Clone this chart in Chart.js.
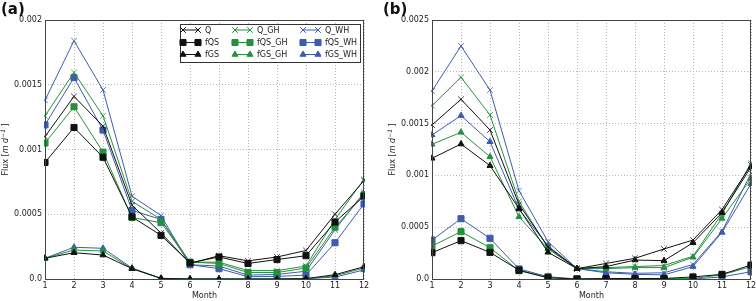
<!DOCTYPE html>
<html>
<head>
<meta charset="utf-8">
<script src="https://cdn.jsdelivr.net/npm/chart.js@4"></script>
<style>
  html,body{margin:0;padding:0;background:#fff;overflow:hidden;width:756px;height:301px;}
  canvas{position:absolute;top:0;}
  #cA{left:0;}
  #cB{left:380px;}
  .lbl{position:absolute;top:0;font:bold 15px "DejaVu Sans";color:#111;}
</style>
</head>
<body>
<canvas id="cA" width="378" height="301"></canvas>
<canvas id="cB" width="390" height="301"></canvas>
<div class="lbl" style="left:1px">(a)</div>
<div class="lbl" style="left:383px">(b)</div>
<script>
// DADOS
const months = ["1","2","3","4","5","6","7","8","9","10","11","12"];
const seriesNames = ["Q","fQS","fGS","Q_GH","fQS_GH","fGS_GH","Q_WH","fQS_WH","fGS_WH"];

// painel (a)
const qA     = [0.00110,0.00141,0.00118,0.00057,0.000355,0.00012,0.00018,0.00014,0.00017,0.00022,0.00050,0.00076];
const fqsA   = [0.00090,0.00117,0.00094,0.00048,0.000337,0.000125,0.00017,0.00012,0.00015,0.00018,0.00044,0.00064];
const fgsA   = [0.00016,0.000203,0.000185,0.00008,0.000005,0,0,0,0,0.000003,0.000033,0.000095];
const qGhA   = [0.00126,0.001595,0.00126,0.00060,0.00046,0.00013,0.00013,0.000065,0.000065,0.00010,0.00046,0.00077];
const fqsGhA = [0.00105,0.00133,0.00098,0.000475,0.000435,0.00013,0.00012,0.00005,0.00005,0.000085,0.00040,0.00065];
const fgsGhA = [0.00016,0.000224,0.000216,0.00008,0.000004,0,0,0,0,0.000002,0.000025,0.000085];
const qWhA   = [0.00138,0.00184,0.00146,0.00064,0.00049,0.00011,0.00010,0.00003,0.000035,0.00006,0.00038,0.00067];
const fqsWhA = [0.00119,0.001555,0.00115,0.00053,0.00046,0.00011,0.00008,0.000018,0.00002,0.00003,0.00028,0.00058];
const fgsWhA = [0.00016,0.000245,0.000237,0.000085,0.000005,0,0,0,0,0.000002,0.000015,0.00007];

// painel (b)
const qB     = [0.001486,0.001735,0.001438,0.00072,0.00031,0.0001,0.00015,0.0002,0.00029,0.000376,0.00067,0.00110];
const fqsB   = [0.000254,0.00037,0.000257,0.000085,0.000012,0,0.000005,0.000005,0.000005,0.00002,0.000045,0.000135];
const fgsB   = [0.001165,0.001303,0.001094,0.00068,0.000258,0.0001,0.00012,0.000183,0.000177,0.00035,0.00064,0.00108];
const qGhB   = [0.001673,0.001947,0.001583,0.00075,0.0003,0.0001,0.00011,0.00012,0.00013,0.00022,0.00063,0.001117];
const fqsGhB = [0.000318,0.000457,0.000302,0.00008,0.000012,0,0.000003,0.000003,0.000003,0.000005,0.00004,0.00012];
const fgsGhB = [0.0013,0.001416,0.00118,0.0006,0.00029,0.0001,0.0001,0.00011,0.00011,0.00021,0.000585,0.00097];
const qWhB   = [0.001815,0.002249,0.001824,0.000852,0.00036,0.0001,0.00007,0.000055,0.00006,0.00014,0.00046,0.00102];
const fqsWhB = [0.000376,0.000582,0.000393,0.000097,0.000022,0,0,0,0,0,0.00002,0.00007];
const fgsWhB = [0.00139,0.001577,0.001325,0.000673,0.00032,0.0001,0.00006,0.000045,0.00004,0.00012,0.00045,0.00092];

// TICKS
const yTicksA = ["0.0","0.0005","0.001","0.0015","0.002"];
const yTicksB = ["0.0","0.0005","0.001","0.0015","0.002","0.0025"];

// ESTILOS
const BLACK = "#111111", GREEN = "#24913c", BLUE = "#3d5cab";
const FONT = "DejaVu Sans";

function ds(label, data, color, kind){
  const st = {cross:"crossRot", sq:"rect", tri:"triangle"}[kind];
  const r = {cross:4, sq:4.3, tri:3.5}[kind];
  return {
    label, data,
    borderColor: color, backgroundColor: color,
    borderWidth: 1,
    pointStyle: st, pointRadius: r, pointHoverRadius: r,
    pointBorderWidth: kind==="cross" ? 0.8 : 1,
    pointBorderColor: color, pointBackgroundColor: color,
    tension: 0, clip: 1
  };
}

function buildSets(arrs){
  const colors = [BLACK,BLACK,BLACK,GREEN,GREEN,GREEN,BLUE,BLUE,BLUE];
  const kinds = ["cross","sq","tri","cross","sq","tri","cross","sq","tri"];
  return arrs.map((a,i)=>ds(seriesNames[i], a, colors[i], kinds[i]));
}

// moldura + rótulo do eixo y
const framePlugin = {
  id:"frame",
  afterDraw(chart){
    const {ctx, chartArea:a} = chart;
    ctx.save();
    ctx.strokeStyle = "#444";
    ctx.lineWidth = 1;
    ctx.strokeRect(a.left+0.5, a.top+0.5, a.right-a.left-1, a.bottom-a.top);
    // Flux [m d^-1]
    const cx = chart.options.plugins.frame.labelX, cy = (a.top+a.bottom)/2;
    ctx.translate(cx, cy);
    ctx.rotate(-Math.PI/2);
    ctx.fillStyle = "#222";
    ctx.textBaseline = "middle";
    const parts = [
      ["Flux [", "8px " + FONT, 0],
      ["m d", "italic 8px " + FONT, 0],
      ["−1", "italic 6px " + FONT, -3],
      [" ]", "8px " + FONT, 0]
    ];
    let w = 0;
    parts.forEach(p=>{ctx.font=p[1]; w+=ctx.measureText(p[0]).width;});
    let x = -w/2;
    parts.forEach(p=>{ctx.font=p[1]; ctx.fillText(p[0], x, p[2]); x+=ctx.measureText(p[0]).width;});
    ctx.restore();
  }
};

// legenda em 3 colunas (matplotlib)
const legendPlugin = {
  id:"mplLegend",
  afterDraw(chart){
    if(!chart.options.plugins.mplLegend.show) return;
    const ctx = chart.ctx;
    const bx = 180, by = 24, bw = 180, bh = 38;
    ctx.save();
    ctx.fillStyle = "#fff";
    ctx.fillRect(bx, by, bw, bh);
    ctx.strokeStyle = "#333";
    ctx.lineWidth = 1;
    ctx.strokeRect(bx+0.5, by+0.5, bw, bh);
    const colX = [183, 235, 303];
    const rowY = [30, 42.5, 54.5];
    chart.data.datasets.forEach((d,i)=>{
      const c = Math.floor(i/3), r = i%3;
      const x0 = colX[c], y = rowY[r];
      ctx.strokeStyle = d.borderColor;
      ctx.lineWidth = 1;
      ctx.beginPath(); ctx.moveTo(x0, y); ctx.lineTo(x0+15, y); ctx.stroke();
      const opt = {pointStyle:d.pointStyle, radius:d.pointRadius, borderWidth:1, rotation:0};
      ctx.fillStyle = d.pointBackgroundColor;
      Chart.helpers.drawPoint(ctx, opt, x0, y);
      Chart.helpers.drawPoint(ctx, opt, x0+15, y);
      ctx.fillStyle = "#222";
      ctx.font = "8px " + FONT;
      ctx.textBaseline = "middle";
      ctx.fillText(d.label, x0+22, y+0.5);
    });
    ctx.restore();
  }
};

function makeChart(id, sets, ymax, ticks, yWidth, padRight, labelX, showLegend){
  return new Chart(document.getElementById(id), {
    type:"line",
    data:{labels:months, datasets:sets},
    options:{
      responsive:false,
      animation:false,
      layout:{padding:{top:20, right:padRight, bottom:0, left:0}},
      plugins:{
        legend:{display:false},
        tooltip:{enabled:false},
        frame:{labelX},
        mplLegend:{show:showLegend}
      },
      scales:{
        x:{
          offset:false,
          grid:{color:"#b8b8b8", drawTicks:false},
          border:{display:false, dash:[1,2]},
          ticks:{color:"#222", font:{family:FONT, size:8}, padding:2, maxRotation:0, autoSkip:false},
          title:{display:true, text:"Month", color:"#222", font:{family:FONT, size:8}, padding:{top:0,bottom:0}},
          afterFit(s){ s.height = 22; }
        },
        y:{
          min:0, max:ymax,
          grid:{color:"#b8b8b8", drawTicks:false},
          border:{display:false, dash:[1,2]},
          ticks:{stepSize:0.0005, color:"#222", font:{family:FONT, size:8}, padding:3,
                 callback:(v,i)=>ticks[i]},
          afterFit(s){ s.width = yWidth; }
        }
      }
    },
    plugins:[framePlugin, legendPlugin]
  });
}

makeChart("cA",
  buildSets([qA,fqsA,fgsA,qGhA,fqsGhA,fgsGhA,qWhA,fqsWhA,fgsWhA]),
  0.002, yTicksA, 45, 14, 6, true);
makeChart("cB",
  buildSets([qB,fqsB,fgsB,qGhB,fqsGhB,fgsGhB,qWhB,fqsWhB,fgsWhB]),
  0.0025, yTicksB, 52, 19, 13, false);
</script>
</body>
</html>
